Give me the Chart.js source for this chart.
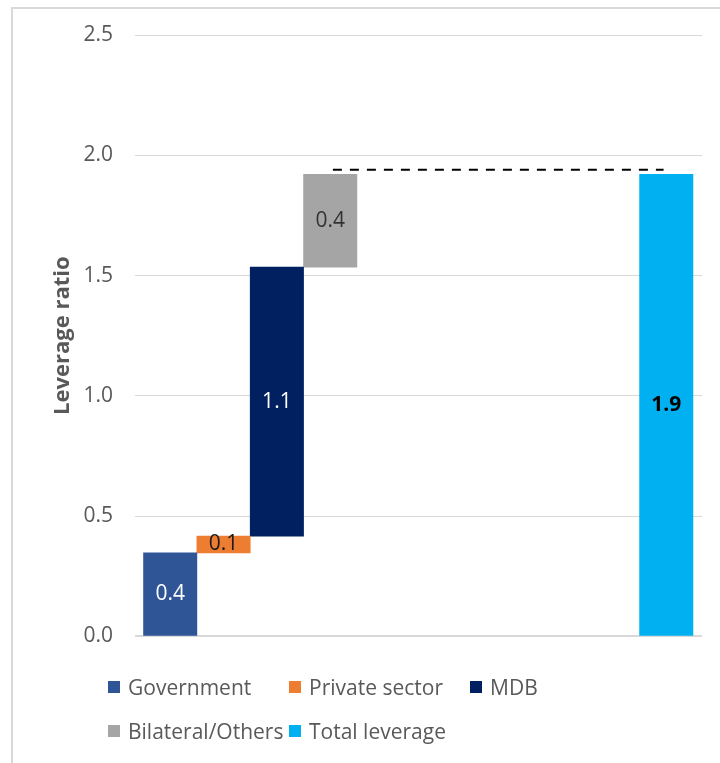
<!DOCTYPE html>
<html>
<head>
<meta charset="utf-8">
<script src="https://cdn.jsdelivr.net/npm/chart.js@4/dist/chart.umd.min.js"></script>
<style>
  html, body { margin: 0; padding: 0; background: #fff; overflow: hidden; }
  body { width: 720px; height: 763px; position: relative; font-family: "Open Sans", sans-serif; }
  #frame { position: absolute; left: 11px; top: 7px; width: 900px; height: 900px;
           border-top: 2px solid #d9d9d9; border-left: 2px solid #d9d9d9; }
  #wrap { position: absolute; left: 0; top: 0; width: 720px; height: 671px; }
  #legend { position: absolute; left: 108px; top: 665px; width: 560px;
            display: flex; flex-wrap: wrap; }
  .item { width: 181px; height: 44px; display: flex; align-items: center;
          font-size: 21px; color: #595959; white-space: nowrap; }
  .box { width: 12px; height: 12px; margin-right: 8px; flex: none; }
</style>
</head>
<body>
<div id="frame"></div>
<div id="wrap"><canvas id="chart"></canvas></div>
<div id="legend"></div>
<script>
// waterfall pieces
const categories = ['Government', 'Private sector', 'MDB', 'Bilateral/Others', 'Total leverage'];
const slots = [0, 1, 2, 3, 9.3];
const barStart = [0, 0.347, 0.417, 1.535, 0];
const barEnd = [0.347, 0.417, 1.535, 1.921, 1.921];
const barLabels = ['0.4', '0.1', '1.1', '0.4', '1.9'];
const colors = ['#2F5597', '#ED7D31', '#002060', '#A5A5A5', '#00B0F0'];
const labelColors = ['#ffffff', '#1a1a1a', '#ffffff', '#333333', '#000000'];
const labelBold = [false, false, false, false, true];
const totalLevel = 1.94;
const totalLineFrom = [3.05, 9.25];

const datasets = categories.map((name, i) => ({
    type: 'bar',
    label: name,
    data: [{ x: slots[i], y: [barStart[i], barEnd[i]] }],
    backgroundColor: colors[i],
    borderWidth: 0,
    grouped: false,
    barPercentage: 1,
    categoryPercentage: 1,
    order: 2
}));

datasets.push({
    type: 'line',
    label: 'total',
    data: totalLineFrom.map(x => ({ x: x, y: totalLevel })),
    borderColor: '#000',
    borderWidth: 2,
    borderDash: [9, 8],
    pointRadius: 0,
    fill: false,
    order: 1
});

const barText = {
    id: 'barText',
    afterDatasetsDraw(chart) {
        const ctx = chart.ctx;
        ctx.save();
        ctx.textAlign = 'center';
        ctx.textBaseline = 'middle';
        categories.forEach((c, i) => {
            const el = chart.getDatasetMeta(i).data[0];
            ctx.font = (labelBold[i] ? 'bold ' : '') + '21px "Open Sans"';
            ctx.fillStyle = labelColors[i];
            ctx.fillText(barLabels[i], el.x, (el.y + el.base) / 2);
        });
        ctx.restore();
    }
};

new Chart(document.getElementById('chart'), {
    data: { datasets: datasets },
    plugins: [barText],
    options: {
        responsive: true,
        maintainAspectRatio: false,
        animation: false,
        layout: { padding: { left: 40, right: 18, top: 35, bottom: 16 } },
        plugins: {
            legend: { display: false },
            tooltip: { enabled: false }
        },
        scales: {
            x: {
                type: 'linear',
                display: false,
                offset: false,
                min: -0.66,
                max: 9.97,
                afterBuildTicks: s => { s.ticks = slots.map(v => ({ value: v })); }
            },
            y: {
                min: 0,
                max: 2.5,
                afterFit: s => { s.width = 95; },
                border: { display: false },
                grid: {
                    color: '#d9d9d9',
                    lineWidth: c => c.tick.value === 0 ? 2 : 1,
                    drawTicks: false
                },
                ticks: {
                    stepSize: 0.5,
                    padding: 22,
                    color: '#595959',
                    font: { family: 'Open Sans', size: 21 },
                    callback: v => v.toFixed(1)
                },
                title: {
                    display: true,
                    text: 'Leverage ratio',
                    color: '#595959',
                    padding: { top: 10, bottom: 0 },
                    font: { family: 'Open Sans', size: 22, weight: 'bold' }
                }
            }
        }
    }
});

const legend = document.getElementById('legend');
categories.forEach((name, i) => {
    const item = document.createElement('div');
    item.className = 'item';
    item.innerHTML = '<span class="box" style="background:' + colors[i] + '"></span>' + name;
    legend.appendChild(item);
});
</script>
</body>
</html>
